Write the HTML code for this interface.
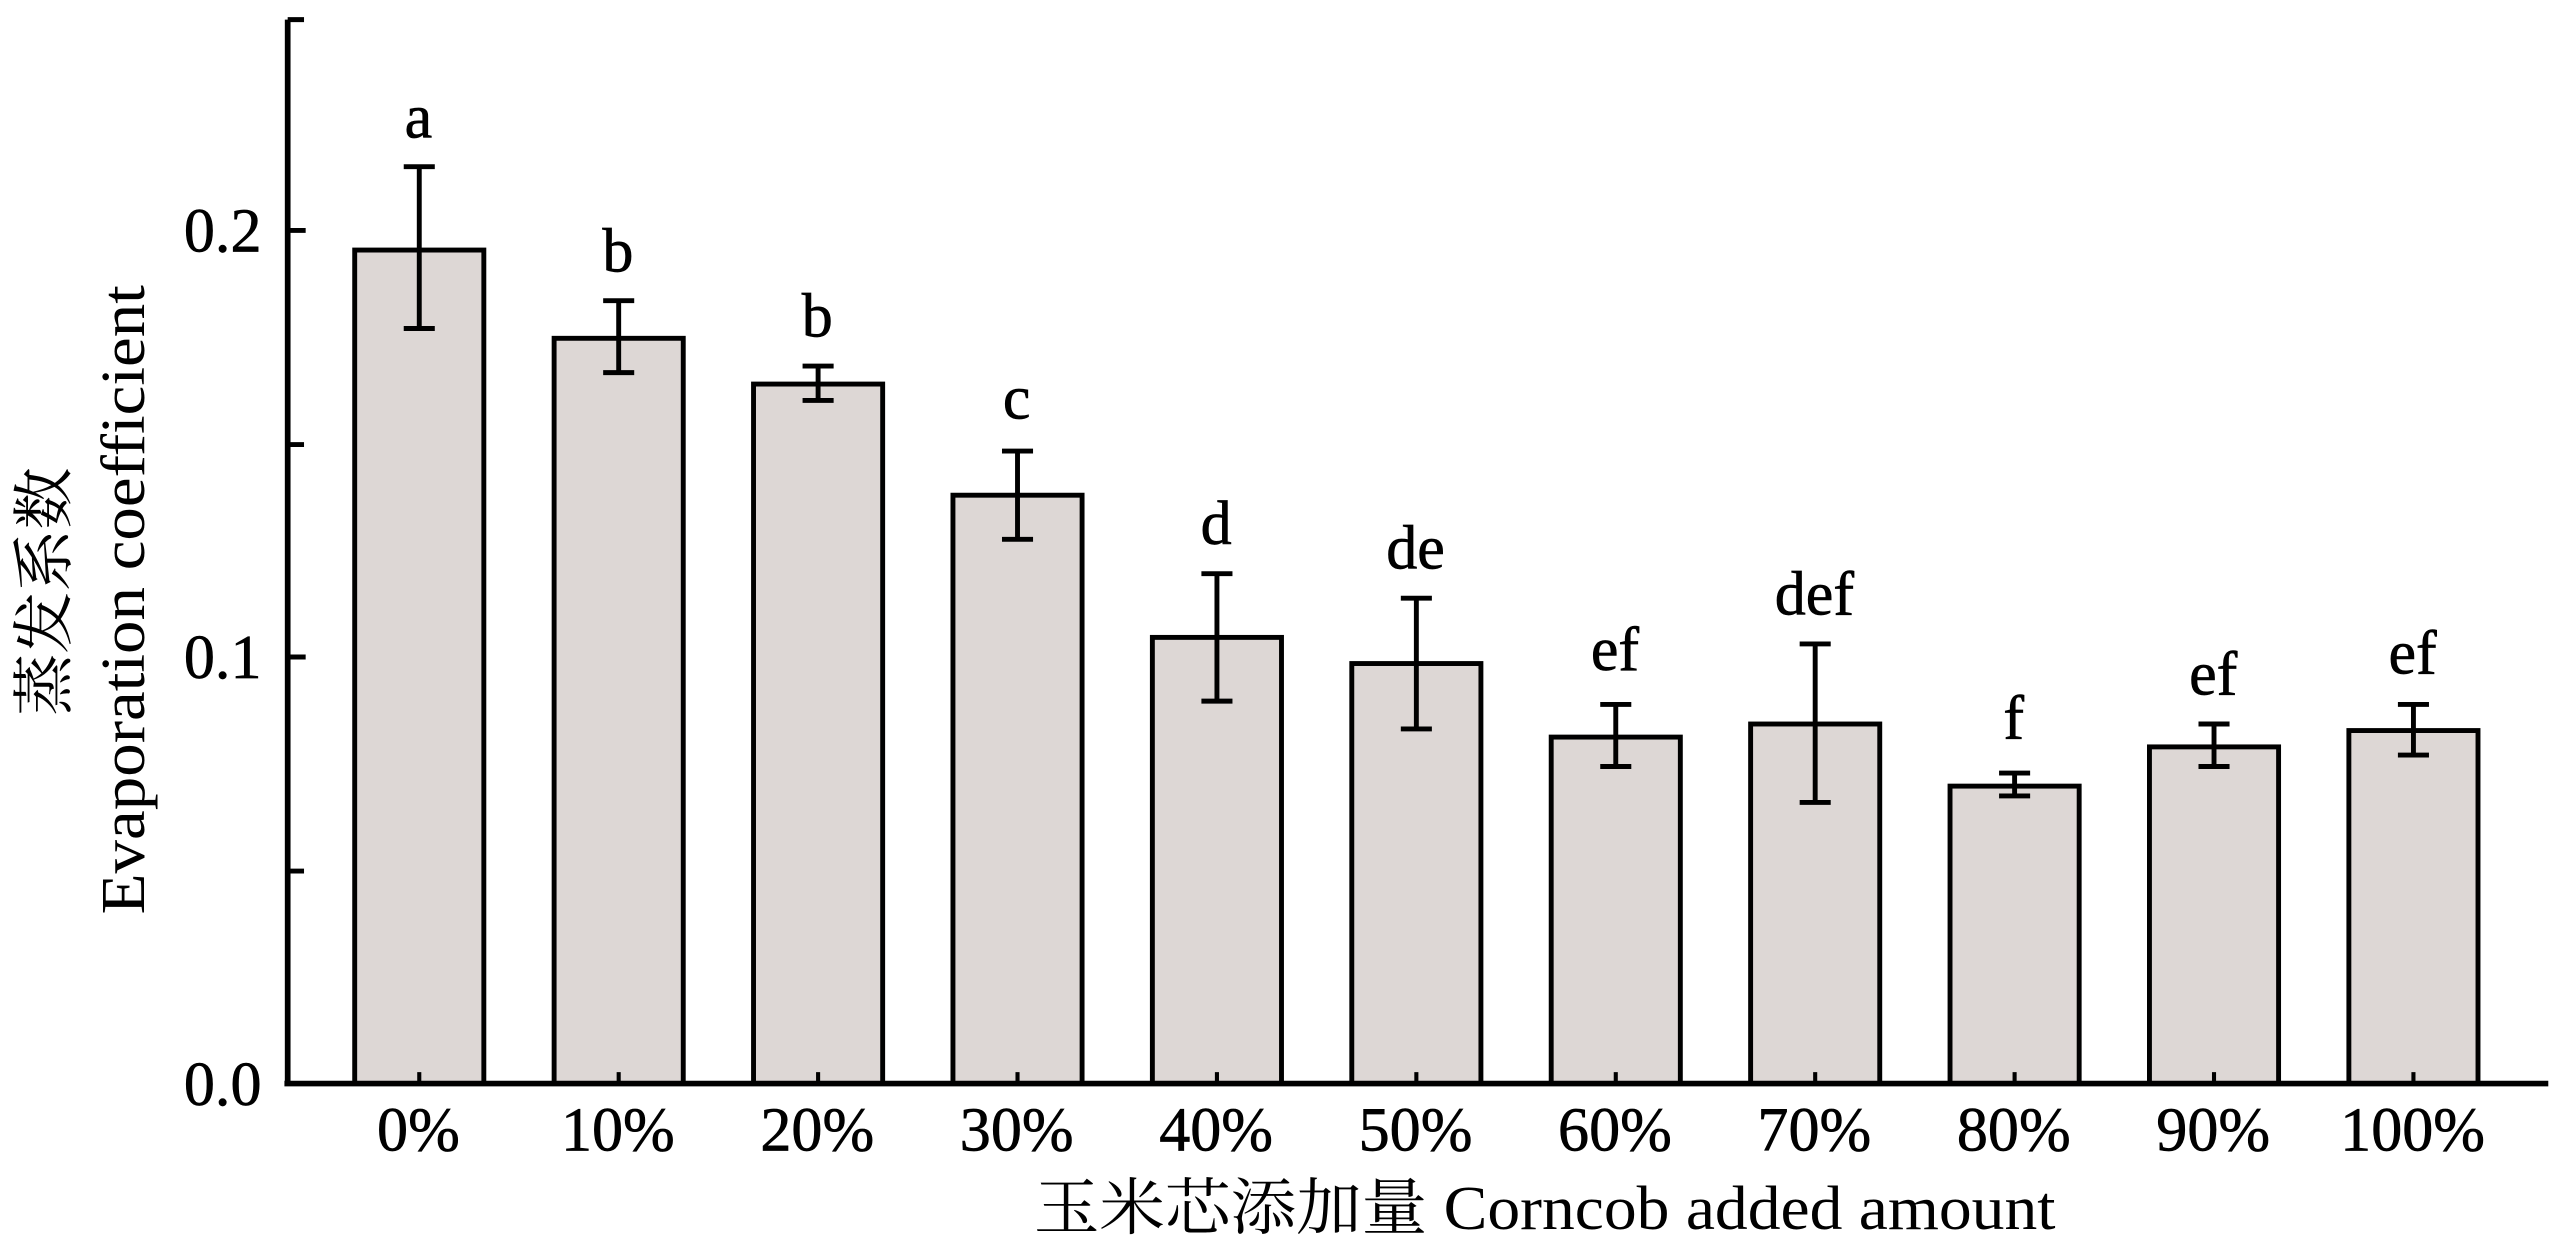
<!DOCTYPE html>
<html><head><meta charset="utf-8"><style>html,body{margin:0;padding:0;background:#fff;overflow:hidden}svg{display:block}</style></head>
<body>
<svg width="2563" height="1247" viewBox="0 0 1568 763" preserveAspectRatio="none" xmlns="http://www.w3.org/2000/svg" font-family="Liberation Serif, 'Noto Serif CJK SC', serif">
<g fill="#ddd7d5" stroke="#000" stroke-width="3">
<rect x="217" y="153" width="79" height="510"/>
<rect x="339" y="207" width="79" height="456"/>
<rect x="461" y="235" width="79" height="428"/>
<rect x="583" y="303" width="79" height="360"/>
<rect x="705" y="390" width="79" height="273"/>
<rect x="827" y="406" width="79" height="257"/>
<rect x="949" y="451" width="79" height="212"/>
<rect x="1071" y="443" width="79" height="220"/>
<rect x="1193" y="481" width="79" height="182"/>
<rect x="1315" y="457" width="79" height="206"/>
<rect x="1437" y="447" width="79" height="216"/>
</g>
<g stroke="#000" stroke-width="3" fill="none">
<path d="M256.5 102V201M247 102H266M247 201H266"/>
<path d="M378.5 184V228M369 184H388M369 228H388"/>
<path d="M500.5 224V245M491 224H510M491 245H510"/>
<path d="M622.5 276V330M613 276H632M613 330H632"/>
<path d="M744.5 351V429M735 351H754M735 429H754"/>
<path d="M866.5 366V446M857 366H876M857 446H876"/>
<path d="M988.5 431V469M979 431H998M979 469H998"/>
<path d="M1110.5 394V491M1101 394H1120M1101 491H1120"/>
<path d="M1232.5 473V487M1223 473H1242M1223 487H1242"/>
<path d="M1354.5 443V469M1345 443H1364M1345 469H1364"/>
<path d="M1476.5 431V462M1467 431H1486M1467 462H1486"/>
<path d="M176 12V663M174 663H1559" stroke-width="3.5"/>
<path d="M176 12H186M176 141H187M176 272H186M176 402H187M176 533H186"/>
<path d="M256.5 663V656M378.5 663V656M500.5 663V656M622.5 663V656M744.5 663V656M866.5 663V656M988.5 663V656M1110.5 663V656M1232.5 663V656M1354.5 663V656M1476.5 663V656" stroke-width="2.5"/>
</g>
<g font-size="38" text-anchor="middle" fill="#000" stroke="#000" stroke-width="0.4">
<text x="256" y="84">a</text><text x="378" y="166">b</text><text x="500" y="206">b</text><text x="622" y="256">c</text>
<text x="744" y="333">d</text><text x="866" y="348">de</text><text x="988" y="410">ef</text><text x="1110" y="376">def</text>
<text x="1232" y="452">f</text><text x="1354" y="425">ef</text><text x="1476" y="412">ef</text>
</g>
<g font-size="38" text-anchor="middle" fill="#000" stroke="#000" stroke-width="0.4">
<text x="256" y="704">0%</text><text x="378" y="704">10%</text><text x="500" y="704">20%</text><text x="622" y="704">30%</text>
<text x="744" y="704">40%</text><text x="866" y="704">50%</text><text x="988" y="704">60%</text><text x="1110" y="704">70%</text>
<text x="1232" y="704">80%</text><text x="1354" y="704">90%</text><text x="1476" y="704">100%</text>
</g>
<g font-size="38" text-anchor="end" fill="#000" stroke="#000" stroke-width="0.4">
<text x="160" y="154">0.2</text><text x="160" y="415">0.1</text><text x="160" y="676">0.0</text>
</g>
<text x="945" y="752" font-size="38" text-anchor="middle" textLength="625" lengthAdjust="spacingAndGlyphs">玉米芯添加量 Corncob added amount</text>
<text transform="translate(40,362) rotate(-90)" font-size="38" text-anchor="middle">蒸发系数</text>
<text transform="translate(88,367) rotate(-90)" font-size="38" text-anchor="middle" textLength="385" lengthAdjust="spacingAndGlyphs">Evaporation coefficient</text>
</svg>
</body></html>
